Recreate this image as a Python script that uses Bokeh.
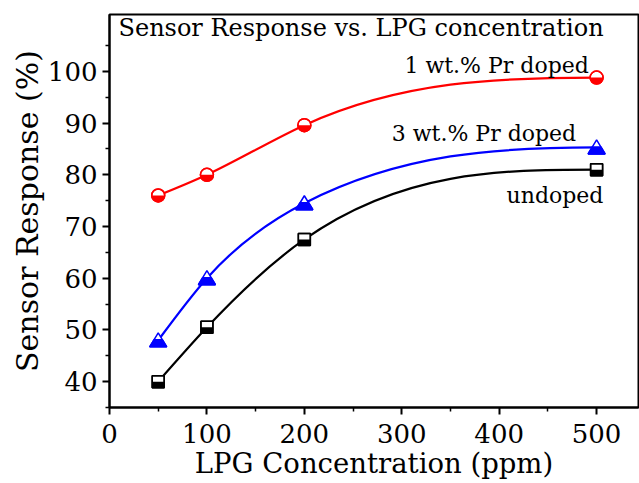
import numpy as np
from bokeh.plotting import figure
from bokeh.models import Range1d, Label, FixedTicker
from bokeh.embed import file_html
from bokeh.resources import INLINE

# ---- data ----
conc = [50, 100, 200, 500]
undoped = [40.0, 50.5, 67.5, 81.0]
pr3 = [48.0, 60.0, 74.5, 85.3]
pr1 = [76.0, 80.0, 89.6, 98.8]
x_ticks = [0, 100, 200, 300, 400, 500]
x_minor = [50, 150, 250, 350, 450]
y_ticks = [40, 50, 60, 70, 80, 90, 100]
y_minor = [35, 45, 55, 65, 75, 85, 95, 105]

FONT = "DejaVu Serif"
X0, X1 = 0, 543
Y0, Y1 = 35, 111
FW, FH = 529, 393
xpp = (X1 - X0) / FW
ypp = (Y1 - Y0) / FH

p = figure(width=639, height=482, frame_width=FW, frame_height=FH,
           x_range=Range1d(X0, X1), y_range=Range1d(Y0, Y1),
           output_backend="svg", toolbar_location=None,
           min_border_left=109, min_border_right=1, min_border_top=14,
           min_border_bottom=75)
p.grid.visible = False
p.outline_line_color = "black"
p.outline_line_width = 2
p.background_fill_color = "white"
p.border_fill_color = "white"

for ax in (p.xaxis[0], p.yaxis[0]):
    ax.axis_line_width = 2
    ax.major_tick_line_width = 2
    ax.minor_tick_line_width = 1.5
    ax.major_tick_in = 0
    ax.major_tick_out = 7
    ax.minor_tick_in = 0
    ax.minor_tick_out = 4
    ax.major_label_text_font = FONT
    ax.major_label_text_font_size = "26px"
    ax.major_label_text_color = "black"
    ax.axis_label_text_font = FONT
    ax.axis_label_text_font_style = "normal"
    ax.axis_label_text_color = "black"
p.xaxis.axis_label_text_font_size = "27.5px"
p.yaxis.axis_label_text_font_size = "30px"
p.xaxis.ticker = FixedTicker(ticks=x_ticks, minor_ticks=x_minor)
p.yaxis.ticker = FixedTicker(ticks=y_ticks, minor_ticks=y_minor)
p.xaxis.axis_label = "LPG Concentration (ppm)"
p.yaxis.axis_label = "Sensor Response (%)"
p.xaxis.major_label_standoff = 9
p.yaxis.major_label_standoff = 5
p.xaxis.axis_label_standoff = 1
p.yaxis.axis_label_standoff = 0


def spline_slopes(x, y):
    x = np.asarray(x, float); y = np.asarray(y, float)
    n = len(x); h = np.diff(x); d = np.diff(y) / h
    A = np.zeros((n, n)); b = np.zeros(n)
    A[0, 0] = 1.0
    for i in range(1, n - 1):
        A[i, i - 1] = h[i - 1]; A[i, i] = 2 * (h[i - 1] + h[i]); A[i, i + 1] = h[i]
        b[i] = 6 * (d[i] - d[i - 1])
    A[n - 1, n - 2] = h[-1]; A[n - 1, n - 1] = 2 * h[-1]; b[n - 1] = -6 * d[-1]
    M = np.linalg.solve(A, b)
    m = np.zeros(n)
    for i in range(n - 1):
        m[i] = d[i] - h[i] * (2 * M[i] + M[i + 1]) / 6
    m[-1] = d[-1] + h[-1] * (M[-2] + 2 * M[-1]) / 6
    return m


def draw_curve(x, y, color):
    m = spline_slopes(x, y)
    x = np.asarray(x, float); y = np.asarray(y, float)
    h = np.diff(x)
    p.bezier(x0=x[:-1], y0=y[:-1], x1=x[1:], y1=y[1:],
             cx0=x[:-1] + h / 3, cy0=y[:-1] + m[:-1] * h / 3,
             cx1=x[1:] - h / 3, cy1=y[1:] - m[1:] * h / 3,
             line_color=color, line_width=2.2)


draw_curve(conc, undoped, "black")
draw_curve(conc, pr3, "blue")
draw_curve(conc, pr1, "red")

# half-filled squares (undoped)
SQ = 12
p.scatter(conc, undoped, marker="square", size=SQ, fill_color="white",
          line_color="black", line_width=1.5)
cx = np.asarray(conc, float); cy = np.asarray(undoped, float)
p.quad(left=cx - SQ / 2 * xpp, right=cx + SQ / 2 * xpp, bottom=cy - SQ / 2 * ypp, top=cy,
       fill_color="black", line_color=None)
p.scatter(conc, undoped, marker="square", size=SQ, fill_color=None,
          line_color="black", line_width=1.5)

# half-filled triangles (3 wt.%)
ty = np.asarray(pr3, float)
tri_xs = [[c - 8.5 * xpp, c + 8.5 * xpp, c] for c in cx]
tri_ys = [[v - 6.5 * ypp, v - 6.5 * ypp, v + 7.5 * ypp] for v in ty]
p.patches(tri_xs, tri_ys, fill_color="white", line_color="blue", line_width=1.5)
trap_xs = [[c - 8.5 * xpp, c + 8.5 * xpp, c + 4.25 * xpp, c - 4.25 * xpp] for c in cx]
trap_ys = [[v - 6.5 * ypp, v - 6.5 * ypp, v + 0.5 * ypp, v + 0.5 * ypp] for v in ty]
p.patches(trap_xs, trap_ys, fill_color="blue", line_color="blue", line_width=1.5)

# half-filled circles (1 wt.%)
CR = 13
p.scatter(conc, pr1, marker="circle", size=CR, fill_color="white",
          line_color="red", line_width=1.5)
p.wedge(x=conc, y=pr1, radius=CR / 2, radius_units="screen", start_angle=np.pi,
        end_angle=2 * np.pi, direction="anticlock", fill_color="red", line_color=None)
p.scatter(conc, pr1, marker="circle", size=CR, fill_color=None,
          line_color="red", line_width=1.5)

# texts
p.add_layout(Label(x=9, y=FH - 13, x_units="screen", y_units="screen",
                   text="Sensor Response vs. LPG concentration", text_font=FONT,
                   text_font_size="24px", text_baseline="middle", text_align="left",
                   text_color="black"))
for txt, lx, ly in [("1 wt.% Pr doped", 492, 101.2),
                    ("3 wt.% Pr doped", 479, 87.9),
                    ("undoped", 507, 76.0)]:
    p.add_layout(Label(x=lx, y=ly, text=txt, text_font=FONT, text_font_size="22px",
                       text_baseline="middle", text_align="right", text_color="black"))

open("out.html", "w").write(file_html(p, INLINE))
